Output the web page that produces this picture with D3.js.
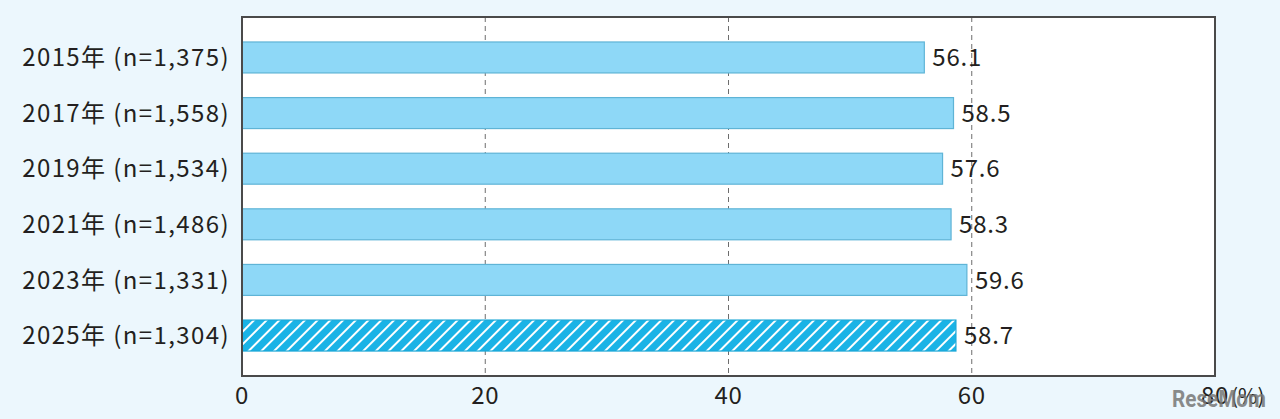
<html>
<script src='https://d3js.org/d3.v7.min.js'></script>
<style>
    body { margin: 0; background: #ecf7fd; }
    text { font-family: "Noto Sans CJK JP", "Noto Sans", sans-serif; fill: #231f20; }
</style>

<body onload='init()'>
    <svg width=1280 height=419></svg>
    <script>
        // data
        const years = ['2015年', '2017年', '2019年', '2021年', '2023年', '2025年'];
        const counts = ['1,375', '1,558', '1,534', '1,486', '1,331', '1,304'];
        const values = [56.1, 58.5, 57.6, 58.3, 59.6, 58.7];
        const ticks = [0, 20, 40, 60, 80];

        function init() {
            const left = 242, top = 17, right = 1215, bottom = 376;
            const svg = d3.select('svg');
            const labels = years.map((y, i) => y + ' (n=' + counts[i] + ')');

            const x = d3.scaleLinear().domain([0, 80]).range([left, right]);
            const y = d3.scaleBand().domain(labels).range([top, bottom])
                .paddingInner(0.443).paddingOuter(0.449);

            // hatch for the latest year
            const pat = svg.append('defs').append('pattern')
                .attr('id', 'hatch').attr('patternUnits', 'userSpaceOnUse')
                .attr('width', 9).attr('height', 9)
                .attr('patternTransform', 'rotate(45)');
            pat.append('rect').attr('width', 9).attr('height', 9).attr('fill', '#1ab3e6');
            pat.append('rect').attr('x', 0).attr('width', 2).attr('height', 9).attr('fill', '#ffffff');

            // plot frame
            svg.append('rect')
                .attr('x', left).attr('y', top)
                .attr('width', right - left).attr('height', bottom - top)
                .attr('fill', '#ffffff');

            // grid
            svg.append('g').selectAll('line')
                .data(ticks.slice(1, -1))
                .enter().append('line')
                .attr('x1', d => x(d)).attr('x2', d => x(d))
                .attr('y1', top).attr('y2', bottom)
                .attr('stroke', '#6d6d6d').attr('stroke-width', 1)
                .attr('stroke-dasharray', '5,4');

            // bars
            svg.append('g').selectAll('rect')
                .data(values)
                .enter().append('rect')
                .attr('x', x(0))
                .attr('y', (d, i) => y(labels[i]))
                .attr('width', d => x(d) - x(0))
                .attr('height', y.bandwidth())
                .attr('fill', (d, i) => i == values.length - 1 ? 'url(#hatch)' : '#8ed8f7')
                .attr('stroke', (d, i) => i == values.length - 1 ? '#1aa6d6' : '#5fb4d6')
                .attr('stroke-width', 1.2);

            svg.append('rect')
                .attr('x', left).attr('y', top)
                .attr('width', right - left).attr('height', bottom - top)
                .attr('fill', 'none').attr('stroke', '#4a4a4a').attr('stroke-width', 2);

            // value labels
            svg.append('g').selectAll('text')
                .data(values)
                .enter().append('text')
                .attr('x', d => x(d) + 8)
                .attr('y', (d, i) => y(labels[i]) + y.bandwidth() / 2)
                .attr('dy', '0.36em')
                .attr('font-size', 24)
                .attr('letter-spacing', 0.8)
                .text(d => d.toFixed(1));

            // category labels
            svg.append('g').selectAll('text')
                .data(labels)
                .enter().append('text')
                .attr('x', 230)
                .attr('y', d => y(d) + y.bandwidth() / 2)
                .attr('dy', '0.36em')
                .attr('text-anchor', 'end')
                .attr('font-size', 24)
                .attr('letter-spacing', 1.4)
                .text(d => d);

            // x ticks
            svg.append('g').selectAll('text')
                .data(ticks)
                .enter().append('text')
                .attr('x', d => x(d))
                .attr('y', 404)
                .attr('text-anchor', 'middle')
                .attr('font-size', 24)
                .attr('letter-spacing', 0.8)
                .text(d => d);

            svg.append('text')
                .attr('x', x(80) + 16).attr('y', 404)
                .attr('font-size', 21)
                .text('(%)');

            // watermark
            svg.append('text')
                .attr('x', 1172).attr('y', 407)
                .attr('font-size', 24).attr('font-weight', 'bold')
                .attr('textLength', 94).attr('lengthAdjust', 'spacingAndGlyphs')
                .style('fill', '#777777').style('opacity', 0.85)
                .style('font-family', 'Roboto, sans-serif')
                .text('ReseMom');
        }
    </script>
</body>

</html>
